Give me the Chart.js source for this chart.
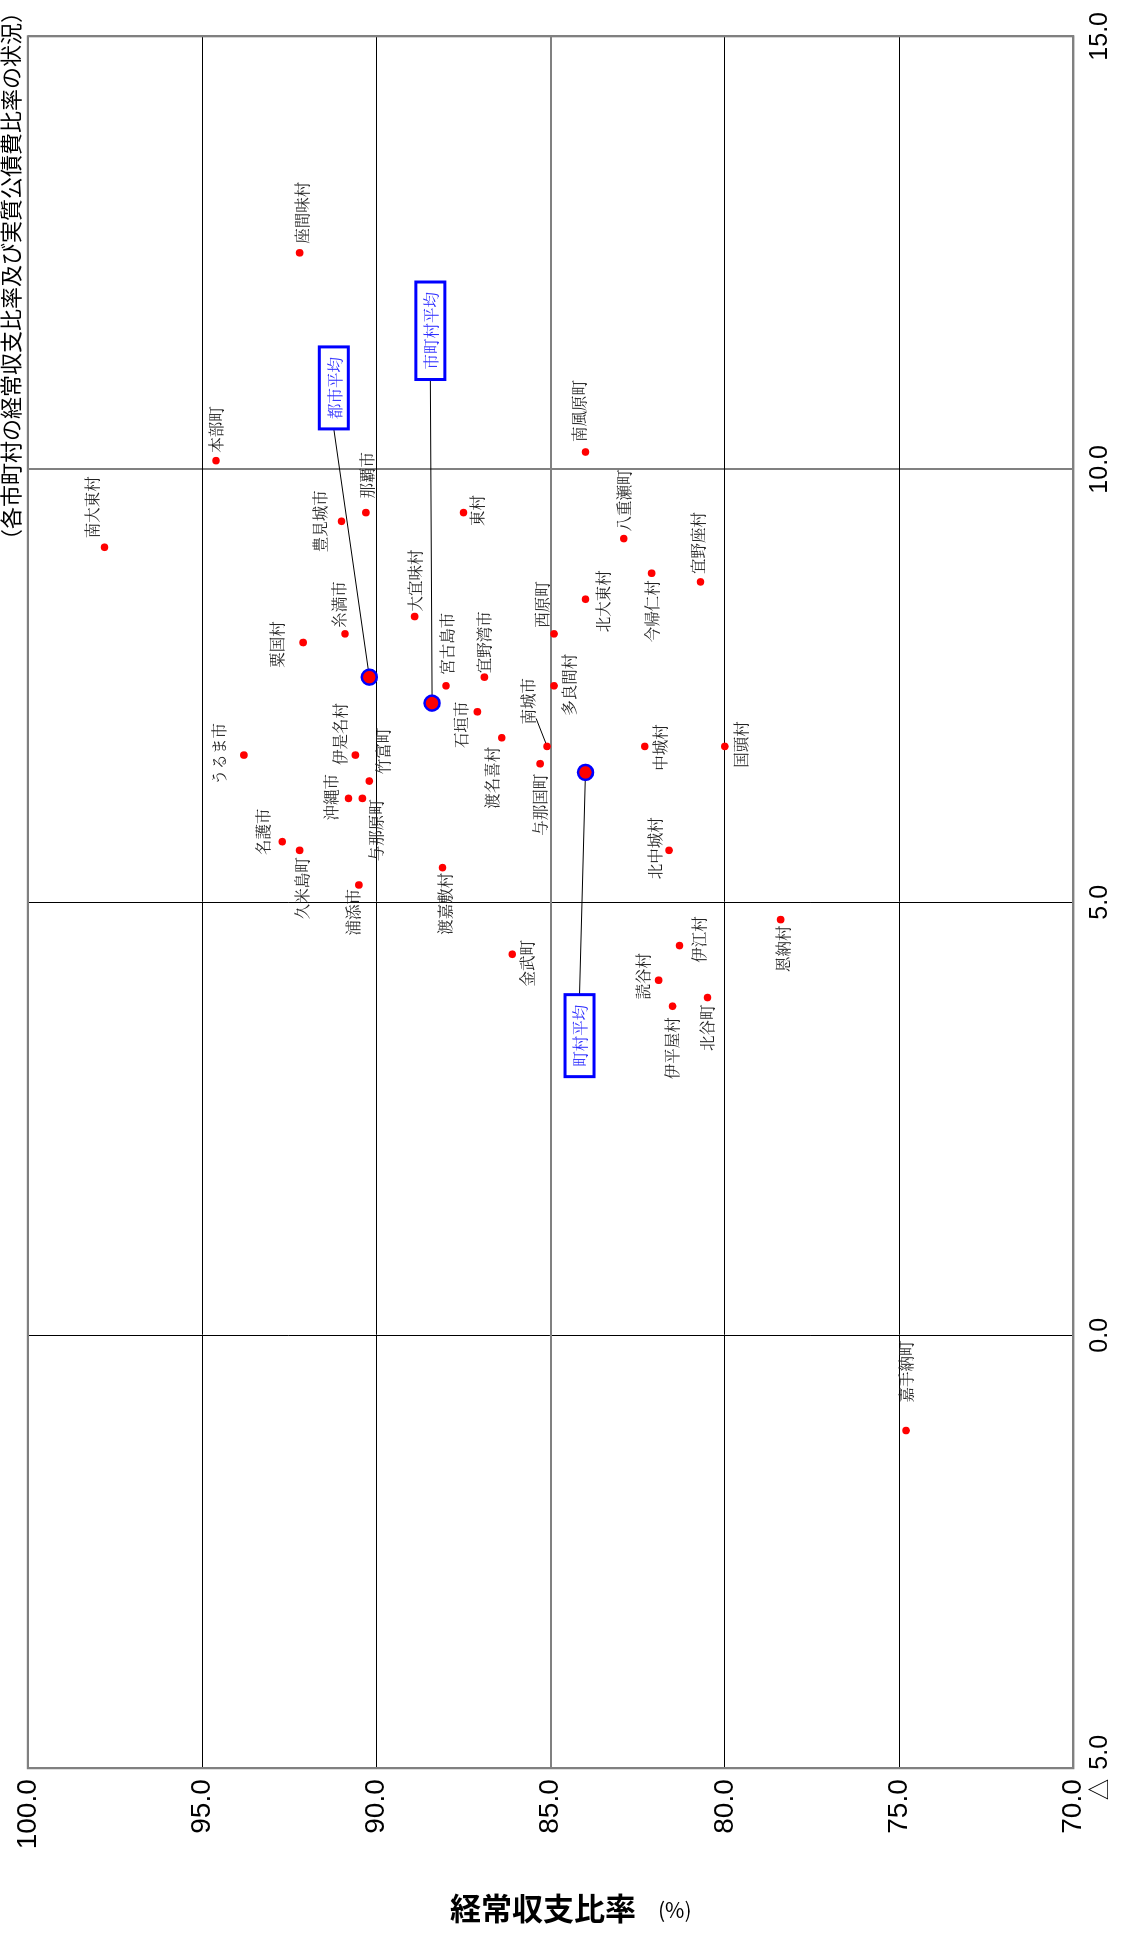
<!DOCTYPE html>
<html lang="ja">
<head>
<meta charset="utf-8">
<title>経常収支比率及び実質公債費比率の状況</title>
<script src="https://cdn.jsdelivr.net/npm/chart.js@4.4.1/dist/chart.umd.min.js"></script>
<style>
  html, body { margin: 0; padding: 0; background: #fff; overflow: hidden; }
  /* the chart is drawn upright, then turned a quarter turn to the left like the reference */
  #wrap {
    position: absolute; left: 0; top: 0;
    width: 1942px; height: 1129px;
    transform-origin: 0 0;
    transform: translate(0px, 1942px) rotate(-90deg);
  }
</style>
</head>
<body>
<div id="wrap"><canvas id="chart" width="1942" height="1129"></canvas></div>
<script>
// 市町村名
const names = ['座間味村', '本部町', '南風原町', '南大東村', '豊見城市', '那覇市', '東村', '八重瀬町',
  '宜野座村', '今帰仁村', '北大東村', '大宜味村', '西原町', '糸満市', '粟国村', '宮古島市', '宜野湾市',
  '多良間村', '石垣市', '渡名喜村', '南城市', '与那国町', '中城村', '国頭村', 'うるま市', '伊是名村',
  '竹富町', '沖縄市', '与那原町', '名護市', '久米島町', '北中城村', '浦添市', '渡嘉敷村', '恩納村',
  '伊江村', '金武町', '読谷村', '北谷町', '伊平屋村', '嘉手納町'];

// 経常収支比率 (%)
const ratio = [92.2, 94.6, 84.0, 97.8, 91.0, 90.3, 87.5, 82.9,
  80.7, 82.1, 84.0, 88.9, 84.9, 90.9, 92.1, 88.0, 86.9,
  84.9, 87.1, 86.4, 85.1, 85.3, 82.3, 80.0, 93.8, 90.6,
  90.2, 90.8, 90.4, 92.7, 92.2, 81.6, 90.5, 88.1, 78.4,
  81.3, 86.1, 81.9, 80.5, 81.5, 74.8];

// 実質公債費比率 (%)
const debt = [12.5, 10.1, 10.2, 9.1, 9.4, 9.5, 9.5, 9.2,
  8.7, 8.8, 8.5, 8.3, 8.1, 8.1, 8.0, 7.5, 7.6,
  7.5, 7.2, 6.9, 6.8, 6.6, 6.8, 6.8, 6.7, 6.7,
  6.4, 6.2, 6.2, 5.7, 5.6, 5.6, 5.2, 5.4, 4.8,
  4.5, 4.4, 4.1, 3.9, 3.8, -1.1];

// 平均
const avgNames = ['都市平均', '市町村平均', '町村平均'];
const avgRatio = [90.2, 88.4, 84.0];
const avgDebt = [7.6, 7.3, 6.5];

// axis ticks
const ratioTicks = [70, 75, 80, 85, 90, 95, 100];
const debtTicks = [-5, 0, 5, 10, 15];

// where each name sits next to its dot: [align, dx, dy, leaderX, leaderY] in px
const labelPos = [
  ['left', 9, 2], ['left', 8, 0], ['left', 10, -6], ['left', 9, -12], ['center', 0, -21],
  ['left', 14, 1], ['center', 2, 14], ['left', 7, 0], ['left', 8, -2], ['right', -7, 0],
  ['center', -2, 18], ['left', 5, 0], ['left', 6, -12], ['left', 6, -6], ['center', -2, -26],
  ['left', 11, 1], ['left', 4, 0], ['center', 1, 15], ['center', -13, -16], ['right', -9, -10],
  ['left', 22, -19, 28, -11], ['right', -10, 0], ['center', -1, 15], ['center', 2, 16], ['center', 1, -25],
  ['center', 21, -15], ['center', 30, 14], ['center', 1, -17], ['center', -32, 14], ['center', 10, -19],
  ['right', -7, 2], ['center', 2, -14], ['right', -4, -6], ['right', -5, 3], ['right', -6, 2],
  ['center', 6, 20], ['center', -9, 15], ['center', 4, -16], ['right', -7, 0], ['right', -11, 0],
  ['left', 28, 0]
];

// callout boxes for the averages, placed in data units
const calloutDebt = [10.94, 11.6, 3.46];
const calloutRatio = [91.22, 88.45, 84.17];

const GRAY = '#808080';
const LABEL_FONT = '15.5px "Noto Serif CJK JP", "Noto Sans CJK JP", serif';

// where the plot box edges sit on the upright canvas
const plotBox = { left: 173.75, right: 1912.75, top: 21, bottom: 1073.4 };
let padTop = 21, padRight = 29, yAxisWidth = 173, xAxisHeight = 56;

function isAxisLine(scaleId, v) {
  if (scaleId === 'x') return v === -5 || v === 10 || v === 15;
  return v === 70 || v === 85 || v === 100;
}

// frame round the plot
const framePlugin = {
  id: 'frame',
  beforeDatasetsDraw(chart) {
    const { ctx, chartArea: a } = chart;
    ctx.save();
    ctx.strokeStyle = GRAY;
    ctx.lineWidth = 2;
    ctx.strokeRect(a.left, a.top, a.right - a.left, a.bottom - a.top);
    ctx.restore();
  }
};

// leader lines and boxes for the averages
const calloutPlugin = {
  id: 'callouts',
  beforeDatasetsDraw(chart) {
    const { ctx, scales } = chart;
    ctx.save();
    ctx.font = LABEL_FONT;
    ctx.strokeStyle = '#000';
    ctx.lineWidth = 1;
    avgNames.forEach((n, i) => {
      const px = scales.x.getPixelForValue(avgDebt[i]);
      const py = scales.y.getPixelForValue(avgRatio[i]);
      const bx = scales.x.getPixelForValue(calloutDebt[i]);
      const by = scales.y.getPixelForValue(calloutRatio[i]);
      const w = ctx.measureText(n).width + 20;
      const ex = bx > px ? bx - w / 2 : bx + w / 2;
      ctx.beginPath();
      ctx.moveTo(px, py);
      ctx.lineTo(ex, by);
      ctx.stroke();
    });
    // 南城市 has its own little leader
    names.forEach((n, i) => {
      const p = labelPos[i];
      if (p.length < 5) return;
      const px = scales.x.getPixelForValue(debt[i]);
      const py = scales.y.getPixelForValue(ratio[i]);
      ctx.beginPath();
      ctx.moveTo(px, py);
      ctx.lineTo(px + p[3], py + p[4]);
      ctx.stroke();
    });
    ctx.restore();
  },
  afterDatasetsDraw(chart) {
    const { ctx, scales } = chart;
    ctx.save();
    ctx.font = LABEL_FONT;
    ctx.textAlign = 'center';
    ctx.textBaseline = 'middle';
    avgNames.forEach((n, i) => {
      const bx = scales.x.getPixelForValue(calloutDebt[i]);
      const by = scales.y.getPixelForValue(calloutRatio[i]);
      const w = ctx.measureText(n).width + 20;
      const h = 29;
      ctx.fillStyle = '#fff';
      ctx.fillRect(bx - w / 2, by - h / 2, w, h);
      ctx.strokeStyle = '#0000ff';
      ctx.lineWidth = 3;
      ctx.strokeRect(bx - w / 2, by - h / 2, w, h);
      ctx.fillStyle = '#2b2bff';
      ctx.fillText(n, bx, by + 1);
    });
    ctx.restore();
  }
};

// names beside the dots
const namePlugin = {
  id: 'names',
  afterDatasetsDraw(chart) {
    const { ctx } = chart;
    const meta = chart.getDatasetMeta(0);
    ctx.save();
    ctx.font = LABEL_FONT;
    ctx.fillStyle = '#222';
    ctx.textBaseline = 'middle';
    meta.data.forEach((pt, i) => {
      const p = labelPos[i];
      ctx.textAlign = p[0];
      ctx.fillText(names[i], pt.x + p[1], pt.y + p[2]);
    });
    ctx.restore();
  }
};

// title and the vertical axis title
const textPlugin = {
  id: 'texts',
  afterDraw(chart) {
    const { ctx } = chart;
    ctx.save();
    ctx.fillStyle = '#000';
    ctx.textBaseline = 'middle';
    ctx.textAlign = 'left';
    ctx.font = '22px "Noto Sans CJK JP", sans-serif';
    ctx.fillText('（各市町村の経常収支比率及び実質公債費比率の状況）', 1391, 11);

    ctx.translate(34, 450);
    ctx.rotate(Math.PI / 2);
    ctx.font = 'bold 31px "Noto Sans CJK JP", sans-serif';
    ctx.fillText('経常収支比率', 0, 0);
    ctx.font = '21px "Noto Sans CJK JP", sans-serif';
    ctx.fillText('(%)', 208, 2);
    ctx.restore();
  }
};

const points = names.map((n, i) => ({ x: debt[i], y: ratio[i] }));
const avgPoints = avgNames.map((n, i) => ({ x: avgDebt[i], y: avgRatio[i] }));

const chart = new Chart(document.getElementById('chart'), {
  type: 'scatter',
  data: {
    datasets: [{
      label: '市町村',
      data: points,
      pointRadius: 3.8,
      pointBackgroundColor: '#ff0000',
      pointBorderWidth: 0
    }, {
      label: '平均',
      data: avgPoints,
      pointRadius: 7.5,
      pointBackgroundColor: '#ff0000',
      pointBorderColor: '#0000ff',
      pointBorderWidth: 2.5
    }]
  },
  options: {
    responsive: false,
    animation: false,
    devicePixelRatio: 1,
    layout: { padding: { top: padTop, right: padRight, left: 0, bottom: 0 } },
    plugins: { legend: { display: false }, tooltip: { enabled: false } },
    scales: {
      x: {
        type: 'linear',
        min: debtTicks[0],
        max: debtTicks[debtTicks.length - 1],
        afterBuildTicks: s => { s.ticks = debtTicks.map(v => ({ value: v })); },
        afterFit: s => { s.height = xAxisHeight; },
        ticks: {
          padding: 12,
          color: '#000',
          font: { family: '"Liberation Sans", Arial, sans-serif', size: 25 },
          callback: v => v < 0 ? '△ ' + Math.abs(v).toFixed(1) : v.toFixed(1)
        },
        grid: {
          drawTicks: false,
          color: c => isAxisLine('x', c.tick.value) ? GRAY : '#000',
          lineWidth: c => isAxisLine('x', c.tick.value) ? 2 : 1
        },
        border: { color: GRAY, width: 2 }
      },
      y: {
        type: 'linear',
        min: ratioTicks[0],
        max: ratioTicks[ratioTicks.length - 1],
        afterBuildTicks: s => { s.ticks = ratioTicks.map(v => ({ value: v })); },
        afterFit: s => { s.width = yAxisWidth; },
        ticks: {
          padding: 11,
          color: '#000',
          font: { family: '"Liberation Sans", Arial, sans-serif', size: 28 },
          callback: v => v.toFixed(1)
        },
        grid: {
          drawTicks: false,
          color: c => isAxisLine('y', c.tick.value) ? GRAY : '#000',
          lineWidth: c => isAxisLine('y', c.tick.value) ? 2 : 1
        },
        border: { color: GRAY, width: 2 }
      }
    }
  },
  plugins: [framePlugin, calloutPlugin, namePlugin, textPlugin]
});

// nudge the layout once so the plot box lands where the reference has it
const xs = chart.scales.x, ys = chart.scales.y;
padTop += plotBox.top - ys.getPixelForValue(ratioTicks[ratioTicks.length - 1]);
padRight += xs.getPixelForValue(debtTicks[debtTicks.length - 1]) - plotBox.right;
yAxisWidth += plotBox.left - xs.getPixelForValue(debtTicks[0]);
xAxisHeight += ys.getPixelForValue(ratioTicks[0]) - plotBox.bottom;
chart.options.layout.padding = { top: padTop, right: padRight, left: 0, bottom: 0 };
chart.update();
</script>
</body>
</html>
